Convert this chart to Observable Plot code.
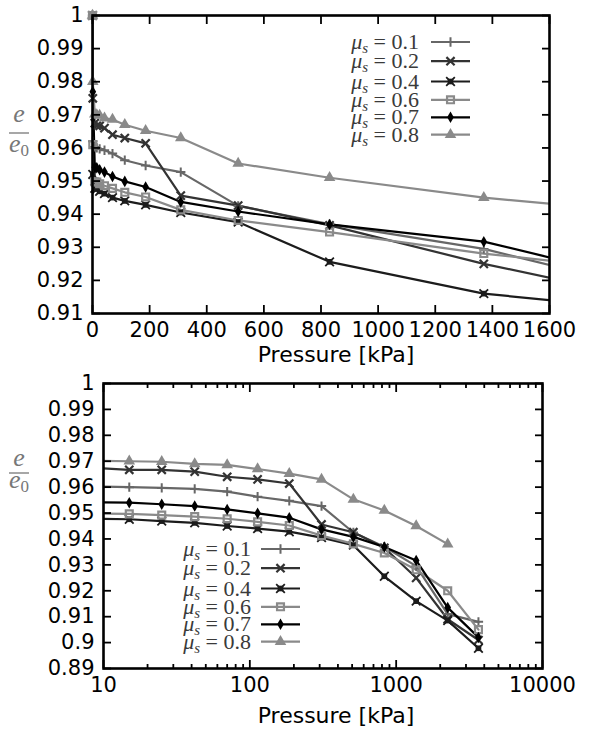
<!DOCTYPE html>
<html><head><meta charset="utf-8">
<script src="https://cdn.jsdelivr.net/npm/d3@7"></script>
<script src="https://cdn.jsdelivr.net/npm/@observablehq/plot@0.6"></script>
<style>
body{margin:0;background:#fff;}
#wrap{position:relative;width:592px;height:730px;overflow:hidden;}
#top,#bottom{position:absolute;left:0;}
#top{top:0;} #bottom{top:365px;}
#overlay{position:absolute;left:0;top:0;pointer-events:none;}
</style></head>
<body><div id="wrap"><div id="top"></div><div id="bottom"></div></div>
<script>
// ---- data ----
const pressureKPa = [0, 1, 8, 15, 25, 42, 70, 113, 186, 309, 510, 830, 1370, 2250, 3650];
const muLabels = ["0.1", "0.2", "0.4", "0.6", "0.7", "0.8"];
const ratioMu01 = [1, 0.962, 0.9603, 0.9600, 0.9597, 0.9593, 0.9583, 0.9563, 0.9547, 0.9527, 0.9425, 0.9370, 0.9295, 0.9110, 0.9080];
const ratioMu02 = [1, 0.975, 0.9675, 0.9667, 0.9667, 0.9660, 0.9640, 0.9630, 0.9614, 0.9456, 0.9426, 0.9366, 0.9250, 0.9090, 0.9010];
const ratioMu04 = [1, 0.952, 0.9478, 0.9476, 0.9469, 0.9462, 0.9450, 0.9440, 0.9428, 0.9405, 0.9376, 0.9256, 0.9160, 0.9085, 0.8978];
const ratioMu06 = [1, 0.961, 0.9498, 0.9497, 0.9492, 0.9486, 0.9478, 0.9466, 0.9452, 0.9413, 0.9381, 0.9346, 0.9281, 0.9200, 0.9050];
const ratioMu07 = [1, 0.977, 0.9542, 0.9540, 0.9534, 0.9527, 0.9514, 0.9499, 0.9482, 0.9437, 0.9408, 0.9369, 0.9317, 0.9135, 0.9020];
const ratioMu08 = [1, 0.980, 0.9702, 0.9700, 0.9698, 0.9690, 0.9686, 0.9670, 0.9652, 0.9630, 0.9553, 0.9510, 0.9450, 0.9380];
const ratioSeries = [ratioMu01, ratioMu02, ratioMu04, ratioMu06, ratioMu07, ratioMu08];

const yTicksTop = [0.91, 0.92, 0.93, 0.94, 0.95, 0.96, 0.97, 0.98, 0.99, 1];
const xTicksTop = [0, 200, 400, 600, 800, 1000, 1200, 1400, 1600];
const yTicksBottom = [0.89, 0.9, 0.91, 0.92, 0.93, 0.94, 0.95, 0.96, 0.97, 0.98, 0.99, 1];
const xTicksBottom = [10, 100, 1000, 10000];
const xMinorBottom = [20, 30, 40, 50, 60, 70, 80, 90, 200, 300, 400, 500, 600, 700, 800, 900, 2000, 3000, 4000, 5000, 6000, 7000, 8000, 9000];

// ---- styles ----
const seriesStyle = [
  {color: "#676767", symbol: "plus", r: 3.1, fill: false, sw: 2},
  {color: "#333333", symbol: "times", r: 3.8, fill: false, sw: 2.2},
  {color: "#1c1c1c", symbol: "square", r: 3.2, fill: true, sw: 2, extra: "times"},
  {color: "#8a8a8a", symbol: "square2", r: 4.4, fill: false, sw: 2.2},
  {color: "#000000", symbol: "diamond", r: 3.5, fill: true, sw: 2},
  {color: "#8a8a8a", symbol: "triangle", r: 4.3, fill: true, sw: 2}
];

const rows = [];
ratioSeries.forEach((vals, i) => vals.forEach((e, j) => rows.push({mu: muLabels[i], k: i, P: pressureKPa[j], e})));

const fmtY = d => String(+d.toFixed(2));

function seriesMarks(filterFn) {
  const out = [];
  muLabels.forEach((m, i) => {
    const st = seriesStyle[i];
    const d = rows.filter(r => r.k === i);
    out.push(Plot.line(d.filter(r => filterFn.line(r)), {x: "P", y: "e", stroke: st.color, strokeWidth: 2.2, clip: true}));
  });
  muLabels.forEach((m, i) => {
    const st = seriesStyle[i];
    const d = rows.filter(r => r.k === i && filterFn.dot(r));
    if (st.fill) out.push(Plot.dot(d, {x: "P", y: "e", symbol: st.symbol, r: st.r, fill: st.color, stroke: "none"}));
    else out.push(Plot.dot(d, {x: "P", y: "e", symbol: st.symbol, r: st.r, fill: "none", stroke: st.color, strokeWidth: st.sw}));
    if (st.extra) out.push(Plot.dot(d, {x: "P", y: "e", symbol: st.extra, r: 4, fill: "none", stroke: st.color, strokeWidth: 1.8}));
  });
  return out;
}

function axes(xt, xMinor, yt, xfmt) {
  const tk = {fill: "none", label: null, strokeWidth: 1.8, stroke: "#000"};
  const m = [
    Plot.frame({stroke: "#000", strokeWidth: 2.6}),
    Plot.axisX(xt, {anchor: "bottom", tickSize: -8, ...tk}),
    Plot.axisX(xt, {anchor: "top", tickSize: -8, ...tk}),
    Plot.axisY(yt, {anchor: "left", tickSize: -8, ...tk}),
    Plot.axisY(yt, {anchor: "right", tickSize: -8, ...tk}),
    Plot.axisX(xt, {anchor: "bottom", tickSize: 0, tickPadding: 9, label: null, tickFormat: xfmt, fill: "#000"}),
    Plot.axisY(yt, {anchor: "left", tickSize: 0, tickPadding: 9, label: null, tickFormat: fmtY, fill: "#000"})
  ];
  if (xMinor) {
    m.push(Plot.axisX(xMinor, {anchor: "bottom", tickSize: -4, ...tk}));
    m.push(Plot.axisX(xMinor, {anchor: "top", tickSize: -4, ...tk}));
  }
  return m;
}

const fontStyle = {fontFamily: "'DejaVu Sans', sans-serif", fontSize: "21px", color: "#000", background: "#fff", overflow: "visible"};

const topPlot = Plot.plot({
  width: 592, height: 365,
  marginTop: 15, marginLeft: 92, marginRight: 43, marginBottom: 52,
  x: {type: "linear", domain: [0, 1600]},
  y: {type: "linear", domain: [0.91, 1]},
  style: fontStyle,
  marks: [
    ...seriesMarks({line: r => true, dot: r => r.P <= 1600}),
    ...axes(xTicksTop, null, yTicksTop, d => String(d))
  ]
});
document.getElementById("top").appendChild(topPlot);

const bottomPlot = Plot.plot({
  width: 592, height: 365,
  marginTop: 18, marginLeft: 103, marginRight: 50, marginBottom: 62,
  x: {type: "log", domain: [10, 10000]},
  y: {type: "linear", domain: [0.89, 1]},
  style: fontStyle,
  marks: [
    ...seriesMarks({line: r => r.P > 0, dot: r => r.P >= 10}),
    ...axes(xTicksBottom, xMinorBottom, yTicksBottom, d3.format("d"))
  ]
});
document.getElementById("bottom").appendChild(bottomPlot);

// ---- overlay: axis titles, y labels, legends ----
const svg = d3.select("#wrap").append("svg").attr("id", "overlay").attr("width", 592).attr("height", 730);

function xTitle(y) {
  svg.append("text").attr("x", 336).attr("y", y).attr("text-anchor", "middle")
    .attr("font-family", "'DejaVu Sans', sans-serif").attr("font-size", 22).attr("fill", "#000")
    .text("Pressure [kPa]");
}
xTitle(362);
xTitle(723);

function yLabel(eBase, barY, e0Base) {
  const g = svg.append("g").attr("fill", "#777").attr("font-family", "'Liberation Serif', serif");
  g.append("text").attr("x", 19).attr("y", eBase).attr("text-anchor", "middle").attr("font-style", "italic").attr("font-size", 26).text("e");
  g.append("line").attr("x1", 9).attr("x2", 29).attr("y1", barY).attr("y2", barY).attr("stroke", "#777").attr("stroke-width", 1.3);
  const t = g.append("text").attr("x", 9).attr("y", e0Base).attr("font-size", 26);
  t.append("tspan").attr("font-style", "italic").text("e");
  t.append("tspan").attr("font-size", 17).attr("dy", 4).text("0");
}
yLabel(122, 133, 152);
yLabel(466, 473, 488);

const symbolMap = {plus: d3.symbolPlus, times: d3.symbolTimes, square: d3.symbolSquare, square2: d3.symbolSquare2, diamond: d3.symbolDiamond, triangle: d3.symbolTriangle};
const rowOffsets = [0, 19.2, 39.5, 57.8, 75.3, 92.6];

function legend(textRight, lineX1, lineX2, y0) {
  muLabels.forEach((m, i) => {
    const st = seriesStyle[i];
    const y = y0 + rowOffsets[i];
    const t = svg.append("text").attr("x", textRight).attr("y", y + 7).attr("text-anchor", "end")
      .attr("font-family", "'Liberation Serif', serif").attr("font-size", 22).attr("fill", "#3a3a3a");
    t.append("tspan").attr("font-style", "italic").text("\u03bc");
    t.append("tspan").attr("font-style", "italic").attr("font-size", 15).attr("dy", 4).text("s");
    t.append("tspan").attr("dy", -4).text(" = " + m);
    svg.append("line").attr("x1", lineX1).attr("x2", lineX2).attr("y1", y).attr("y2", y)
      .attr("stroke", st.color).attr("stroke-width", 2.2);
    const cx = (lineX1 + lineX2) / 2;
    const p = svg.append("path").attr("transform", `translate(${cx},${y})`)
      .attr("d", d3.symbol(symbolMap[st.symbol], Math.PI * st.r * st.r)());
    if (st.fill) p.attr("fill", st.color);
    else p.attr("fill", "none").attr("stroke", st.color).attr("stroke-width", st.sw);
    if (st.extra) svg.append("path").attr("transform", `translate(${cx},${y})`)
      .attr("d", d3.symbol(symbolMap[st.extra], Math.PI * 4 * 4)()).attr("fill", "none").attr("stroke", st.color).attr("stroke-width", 1.8);
  });
}
legend(419, 431, 470, 42);
legend(251, 261, 300, 549);
</script>
</body></html>
